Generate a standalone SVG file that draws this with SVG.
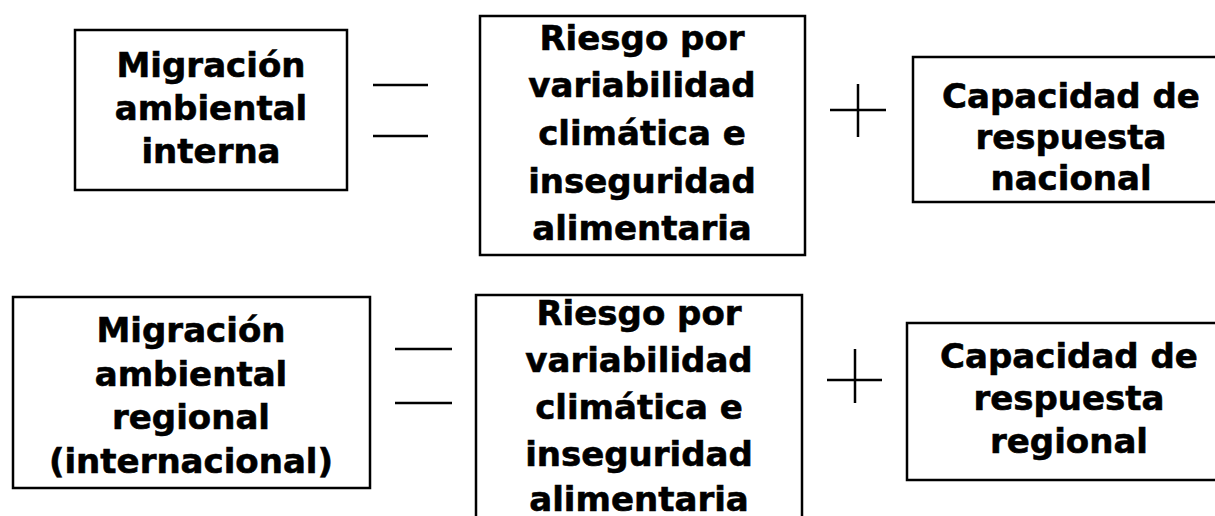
<svg xmlns="http://www.w3.org/2000/svg" width="1215" height="516" viewBox="0 0 1215 516">
<style>
.box{fill:#fff;stroke:#000;stroke-width:2.5}
.op{stroke:#000;stroke-width:2.5;fill:none}
text{font-family:"DejaVu Sans","Liberation Sans",sans-serif;font-weight:bold;font-size:34px;fill:#000;stroke:#000;stroke-width:0.6;text-anchor:middle}
</style>
<rect width="1215" height="516" fill="#fff"/>
<g id="n1"><rect class="box" x="75" y="30" width="272" height="160"/>
<text x="211" y="77">Migración</text><text x="211" y="120">ambiental</text><text x="211" y="163">interna</text></g>
<g id="n2"><rect class="box" x="480" y="16" width="325" height="239"/>
<text x="642" y="50">Riesgo por</text><text x="642" y="97">variabilidad</text><text x="642" y="145">climática e</text><text x="642" y="193">inseguridad</text><text x="642" y="240">alimentaria</text></g>
<g id="n3"><rect class="box" x="913" y="57" width="320" height="145"/>
<text x="1071" y="108">Capacidad de</text><text x="1071" y="149">respuesta</text><text x="1071" y="190">nacional</text></g>
<g id="n4"><rect class="box" x="13" y="297" width="357" height="191"/>
<text x="191" y="342">Migración</text><text x="191" y="386">ambiental</text><text x="191" y="429">regional</text><text x="191" y="473">(internacional)</text></g>
<g id="n5"><rect class="box" x="476" y="295" width="326" height="240"/>
<text x="639" y="325">Riesgo por</text><text x="639" y="372">variabilidad</text><text x="639" y="419">climática e</text><text x="639" y="466">inseguridad</text><text x="639" y="511">alimentaria</text></g>
<g id="n6"><rect class="box" x="907" y="323" width="325" height="157"/>
<text x="1069" y="368">Capacidad de</text><text x="1069" y="410">respuesta</text><text x="1069" y="453">regional</text></g>
<g id="connectors">
<line class="op" x1="373" y1="85" x2="428" y2="85"/><line class="op" x1="373" y1="136" x2="428" y2="136"/>
<line class="op" x1="830" y1="110" x2="886" y2="110"/><line class="op" x1="858" y1="84" x2="858" y2="137"/>
<line class="op" x1="395" y1="349" x2="452" y2="349"/><line class="op" x1="395" y1="403" x2="452" y2="403"/>
<line class="op" x1="827" y1="380" x2="882" y2="380"/><line class="op" x1="855" y1="349" x2="855" y2="403"/>
</g>
</svg>
